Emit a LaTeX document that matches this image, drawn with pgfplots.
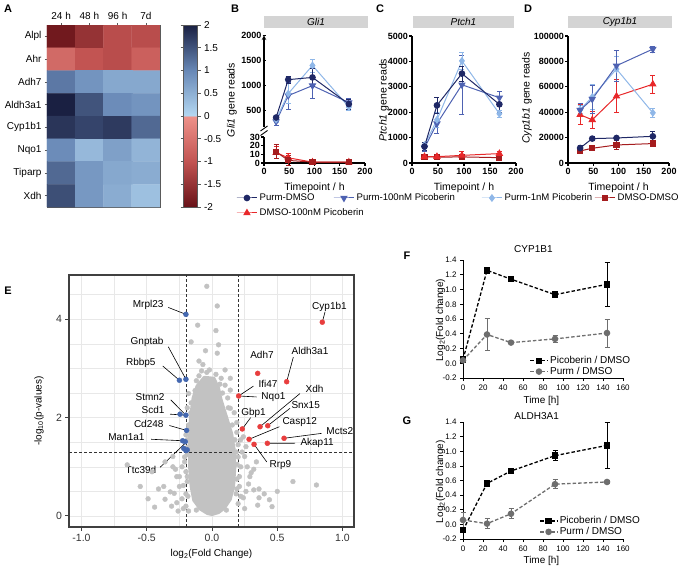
\documentclass[border=0pt]{standalone}
\usepackage{fontspec}
\setmainfont{Liberation Sans}
\usepackage{pgfplots}
\pgfplotsset{compat=1.18}

\definecolor{navy}{RGB}{31,40,102}
\definecolor{mblue}{RGB}{78,98,178}
\definecolor{lblue}{RGB}{143,183,232}
\definecolor{dred}{RGB}{165,28,30}
\definecolor{bred}{RGB}{232,40,42}
\definecolor{ptgray}{RGB}{194,194,194}
\definecolor{hitred}{RGB}{232,62,62}
\definecolor{hitblue}{RGB}{68,104,176}
\definecolor{bargray}{RGB}{212,212,212}
\definecolor{fggray}{RGB}{110,110,110}
\definecolor{frame}{RGB}{90,90,90}

\newcommand{\ten}{\fontsize{10}{12}\selectfont}

\pgfplotsset{
  every axis/.append style={scale only axis,
    /pgf/number format/assume math mode=true,
    /pgf/number format/1000 sep={}, scaled ticks=false},
  colormap={hm}{rgb255(0cm)=(104,18,24); rgb255(5cm)=(194,84,82);
    rgb255(9.99cm)=(238,146,138); rgb255(10.01cm)=(180,216,242);
    rgb255(15cm)=(104,136,182); rgb255(20cm)=(26,32,66)},
  % small time-course panels B-D
  gp/.style={axis lines=left, axis line style={-, line width=1.1pt},
    tick align=outside, major tick length=3pt, tick style={black, line width=1.1pt},
    tick label style={font=\fontsize{9}{10}\selectfont\bfseries, inner sep=1pt, /pgf/number format/fixed},
    xticklabel style={inner sep=2pt},
    xmin=0, xmax=200, xtick={0,50,100,150,200}, clip=false,
    xlabel style={font=\fontsize{10.5}{12}\selectfont, at={(axis description cs:0.5,0)}, anchor=center, yshift=-25pt}},
  s1/.style={color=navy, line width=1pt, mark=*, mark size=2.8pt},
  s2/.style={color=mblue, line width=1pt, mark=triangle*, mark size=3.4pt, mark options={rotate=180}},
  s3/.style={color=lblue, line width=1pt, mark=diamond*, mark size=3.2pt},
  s4/.style={color=dred, line width=1pt, mark=square*, mark size=2.6pt},
  s5/.style={color=bred, line width=1pt, mark=triangle*, mark size=3.4pt},
  eb/.style={error bars/.cd, y dir=both, y explicit,
    error bar style={solid, line width=0.8pt},
    error mark options={solid, rotate=90, mark size=2.5pt, line width=0.8pt}},
  % one-entry legend boxes under B-D
  lg/.style={hide axis, width=1pt, height=1pt, xmin=0, xmax=1, ymin=0, ymax=1,
    anchor=west, legend cell align=left,
    legend image code/.code={\draw[mark repeat=2,mark phase=2] plot coordinates {(0cm,0cm) (0.36cm,0cm) (0.72cm,0cm)};},
    legend style={at={(0,0.5)}, anchor=west, draw=none, fill=none, inner sep=0pt,
      font=\fontsize{9.6}{11}\selectfont}},
  % fold-change panels F-G
  fg/.style={width=160pt, height=118pt, xmin=0, xmax=160, ymin=-0.2, ymax=1.4,
    xtick={0,20,...,160}, ytick={-0.2,0,0.2,0.4,0.6,0.8,1,1.2,1.4},
    axis lines=left, axis line style={-, line width=0.7pt},
    tick align=outside, major tick length=3pt, tick style={black, line width=0.7pt},
    tick label style={font=\fontsize{8}{9}\selectfont},
    yticklabel style={/pgf/number format/fixed, /pgf/number format/fixed zerofill, /pgf/number format/precision=1},
    xlabel={Time [h]}, ylabel={Log\textsubscript{2}(Fold change)},
    label style={font=\ten},
    xlabel style={at={(axis description cs:0.49,-0.19)}, anchor=center},
    ylabel style={at={(axis description cs:-0.14,0.49)}, anchor=center},
    title style={font=\ten, anchor=center},
    clip=false, legend cell align=left,
    legend style={anchor=west, draw=none, fill=none, font=\ten, row sep=-2pt, inner sep=1pt}},
  fp/.style={black, dashed, dash pattern=on 3.5pt off 2pt, line width=1.3pt, mark=square*, mark size=2.6pt, mark options={solid}},
  fq/.style={fggray, dashed, dash pattern=on 3.5pt off 2pt, line width=1.3pt, mark=*, mark size=2.6pt, mark options={solid}},
}

\begin{document}
\begin{tikzpicture}
\path[use as bounding box] (0pt,0pt) rectangle (680pt,-569pt);

% panel letters
\foreach \l/\x/\y in {A/8/9, B/235/9, C/380/9, D/528/9, E/8/291, F/407/256, G/407/421}
  \node[font=\fontsize{11}{12}\selectfont\bfseries] at (\x pt,-\y pt) {\l};

% ---------------- A: heatmap ----------------
\begin{axis}[at={(47pt,-207pt)}, anchor=south west, width=113pt, height=182pt,
  xmin=-0.5, xmax=3.5, ymin=-0.5, ymax=7.5, y dir=reverse,
  xtick={0,1,2,3}, xticklabels={24 h,48 h,96 h,7d}, xticklabel pos=top, xtick pos=top, ytick pos=left,
  ytick={0,1,...,7}, yticklabels={Alpl,Ahr,Adh7,Aldh3a1,Cyp1b1,Nqo1,Tiparp,Xdh},
  tick align=outside, major tick length=2pt, tick style={frame, line width=0.6pt},
  axis line style={frame, line width=0.8pt},
  tick label style={font=\ten},
  colormap name=hm, point meta min=-2, point meta max=2,
  colorbar, colorbar style={at={(parent axis.north east)}, anchor=north west, xshift=15pt,
    width=14pt, ytick={-2,-1.5,-1,-0.5,0,0.5,1,1.5,2},
    yticklabel style={font=\ten}, axis line style={frame, line width=0.8pt},
    tick style={frame, line width=0.6pt}, major tick length=3pt, tick align=outside}]
\addplot[matrix plot*, mesh/cols=4, point meta=explicit] table[meta=c] {
x y c
0 0 -1.9
1 0 -1.5
2 0 -1.1
3 0 -1.1
0 1 -0.65
1 1 -1.0
2 1 -1.1
3 1 -0.8
0 2 1.15
1 2 0.85
2 2 0.6
3 2 0.6
0 3 2.0
1 3 1.5
2 3 0.95
3 3 0.85
0 4 1.8
1 4 1.65
2 4 1.75
3 4 1.3
0 5 0.95
1 5 0.4
2 5 0.7
3 5 0.45
0 6 1.3
1 6 0.8
2 6 0.6
3 6 0.55
0 7 1.55
1 7 0.8
2 7 0.55
3 7 0.3
};
\end{axis}

% ---------------- B: Gli1 (broken axis) ----------------
\fill[bargray] (264pt,-16pt) rectangle (368pt,-28pt);
\node[font=\ten\itshape] at (316pt,-22pt) {Gli1};
\node[rotate=90, font=\fontsize{10.5}{12}\selectfont] at (232pt,-100pt) {\textit{Gli1} gene reads};

\begin{axis}[gp, at={(264pt,-127pt)}, anchor=south west, width=101pt, height=91.7pt,
  ymin=160, ymax=2000, ytick={500,1000,1500,2000}, axis x line=none, axis y line=left]
\addplot[s2, eb] coordinates {(24,270) +- (0,70) (48,790) +- (0,270) (96,990) +- (0,260) (168,650) +- (0,80)};
\addplot[s3, eb] coordinates {(24,310) +- (0,60) (48,830) +- (0,200) (96,1395) +- (0,130) (168,560) +- (0,70)};
\addplot[s1, eb] coordinates {(24,350) +- (0,50) (48,1110) +- (0,70) (96,1155) +- (0,180) (168,620) +- (0,100)};
\end{axis}
\begin{axis}[gp, at={(264pt,-163pt)}, anchor=south west, width=101pt, height=26pt,
  ymin=0, ymax=30, ytick={0,10,20,30}, xlabel={Timepoint / h}]
\addplot[s5, eb] coordinates {(24,12) +- (0,7) (48,6) +- (0,5) (96,1) +- (0,1) (168,1) +- (0,1)};
\addplot[s4, eb] coordinates {(24,13) +- (0,8) (48,3) +- (0,6) (96,1) +- (0,1) (168,1) +- (0,1)};
\end{axis}
\draw[line width=0.9pt] (260.5pt,-131pt) -- (267.5pt,-126pt);
\draw[line width=0.9pt] (260.5pt,-135.5pt) -- (267.5pt,-130.5pt);

% ---------------- C: Ptch1 ----------------
\fill[bargray] (413pt,-16pt) rectangle (514pt,-28pt);
\node[font=\ten\itshape] at (463.5pt,-22pt) {Ptch1};
\node[rotate=90, font=\fontsize{10.5}{12}\selectfont] at (384pt,-100pt) {\textit{Ptch1} gene reads};
\begin{axis}[gp, at={(412pt,-163pt)}, anchor=south west, width=104pt, height=127pt,
  ymin=0, ymax=5000, ytick={0,1000,...,5000}, xlabel={Timepoint / h}]
\addplot[s4, eb] coordinates {(24,250) +- (0,50) (48,230) +- (0,50) (96,240) +- (0,100) (168,210) +- (0,60)};
\addplot[s5, eb] coordinates {(24,250) +- (0,50) (48,250) +- (0,50) (96,300) +- (0,150) (168,370) +- (0,100)};
\addplot[s2, eb] coordinates {(24,600) +- (0,150) (48,1550) +- (0,400) (96,3080) +- (0,1150) (168,2570) +- (0,250)};
\addplot[s3, eb] coordinates {(24,700) +- (0,100) (48,1700) +- (0,300) (96,4020) +- (0,350) (168,1940) +- (0,150)};
\addplot[s1, eb] coordinates {(24,650) +- (0,150) (48,2270) +- (0,300) (96,3520) +- (0,300) (168,2310) +- (0,300)};
\end{axis}

% ---------------- D: Cyp1b1 ----------------
\fill[bargray] (568pt,-16pt) rectangle (672pt,-28pt);
\node[font=\ten\itshape] at (620pt,-22pt) {Cyp1b1};
\node[rotate=90, font=\fontsize{10.5}{12}\selectfont] at (527pt,-98pt) {\textit{Cyp1b1} gene reads};
\begin{axis}[gp, at={(568pt,-163pt)}, anchor=south west, width=101pt, height=127pt,
  ymin=0, ymax=100000, ytick={0,20000,40000,60000,80000,100000}, xlabel={Timepoint / h}]
\addplot[s4, eb] coordinates {(24,9500) +- (0,2000) (48,11600) +- (0,1500) (96,14200) +- (0,3500) (168,15300) +- (0,1500)};
\addplot[s1, eb] coordinates {(24,11800) +- (0,2000) (48,19200) +- (0,1500) (96,19700) +- (0,1500) (168,21000) +- (0,4000)};
\addplot[s5, eb] coordinates {(24,38000) +- (0,8000) (48,34000) +- (0,6500) (96,52600) +- (0,13000) (168,62000) +- (0,7000)};
\addplot[s3, eb] coordinates {(24,42000) +- (0,3000) (48,52000) +- (0,10000) (96,74000) +- (0,10000) (168,39500) +- (0,3500)};
\addplot[s2, eb] coordinates {(24,41600) +- (0,5000) (48,50300) +- (0,11000) (96,76600) +- (0,12000) (168,89700) +- (0,2500)};
\end{axis}

% ---------------- legend for B-D ----------------
\begin{axis}[lg, at={(236pt,-198pt)}]
\addlegendimage{s1}\addlegendentry{Purm-DMSO}
\end{axis}
\begin{axis}[lg, at={(333pt,-198pt)}]
\addlegendimage{s2}\addlegendentry{Purm-100nM Picoberin}
\end{axis}
\begin{axis}[lg, at={(481pt,-198pt)}]
\addlegendimage{s3}\addlegendentry{Purm-1nM Picoberin}
\end{axis}
\begin{axis}[lg, at={(594pt,-198pt)}]
\addlegendimage{s4}\addlegendentry{DMSO-DMSO}
\end{axis}
\begin{axis}[lg, at={(236pt,-213pt)}]
\addlegendimage{s5}\addlegendentry{DMSO-100nM Picoberin}
\end{axis}

% ---------------- E: volcano ----------------
\begin{axis}[at={(69pt,-527pt)}, anchor=south west, width=285pt, height=252pt,
  xmin=-1.096, xmax=1.088, ymin=-0.224, ymax=4.9,
  xtick={-1,-0.5,0,0.5,1}, minor xtick={-0.75,-0.25,0.25,0.75},
  ytick={0,2,4}, minor ytick={0.5,1,1.5,2.5,3,3.5,4.5},
  grid=both, major grid style={gray!18, line width=0.6pt}, minor grid style={gray!18, line width=0.6pt},
  axis line style={black!75, line width=1.2pt},
  xtick pos=bottom, ytick pos=left,
  tick align=outside, major tick length=3.5pt, minor tick length=0pt, tick style={black!75, line width=1pt},
  xticklabel style={/pgf/number format/fixed, /pgf/number format/fixed zerofill, /pgf/number format/precision=1},
  tick label style={font=\fontsize{10.5}{12}\selectfont, black!80},
  xlabel={log\textsubscript{2}(Fold Change)}, ylabel={-log\textsubscript{10}(p-values)},
  label style={font=\ten},
  xlabel style={at={(axis description cs:0.5,-0.107)}, anchor=center},
  ylabel style={at={(axis description cs:-0.105,0.46)}, anchor=center}]
% dense core of non-significant genes
\addplot[fill=ptgray, draw=ptgray, line width=3pt, line join=round] coordinates {
(0.0,0.03) (0.05,0.07) (0.095,0.16) (0.14,0.34) (0.165,0.6) (0.175,1.0) (0.17,1.35)
(0.15,1.68) (0.11,2.02) (0.07,2.36) (0.05,2.6) (0.015,2.8) (-0.06,2.82) (-0.115,2.64)
(-0.145,2.4) (-0.165,2.0) (-0.172,1.6) (-0.172,1.0) (-0.16,0.6) (-0.14,0.32) (-0.09,0.14) (-0.035,0.05)
} -- cycle;
\addplot[only marks, mark=*, mark size=2.4pt, color=ptgray] coordinates {
(-0.04,4.67) (0.04,4.27) (-0.11,3.88) (0.03,3.77) (-0.16,3.54) (0.05,3.48) (-0.05,3.36)
(0.04,3.31) (-0.10,3.15) (-0.07,3.08) (0.10,2.97) (-0.08,2.95) (-0.04,2.92) (0.14,2.80)
(0.03,2.88) (0.07,2.80) (0.14,2.56) (-0.18,2.49) (0.10,2.66) (-0.12,2.75) (0.12,2.40)
(0.08,2.50) (-0.16,2.30)
(-0.21,1.2) (-0.23,1.0) (-0.2,0.9) (-0.25,0.8) (-0.22,0.62) (-0.2,0.45) (-0.23,0.35)
(-0.2,0.2) (-0.19,1.25) (-0.21,1.1) (-0.19,0.7) (-0.30,1.21) (-0.30,1.0) (-0.27,0.8)
(-0.37,0.6) (-0.32,0.49) (-0.36,0.34) (-0.29,0.46) (-0.46,0.9) (-0.36,1.10) (-0.65,1.04)
(-0.18,0.1) (-0.22,0.15) (-0.27,0.27) (-0.41,0.55) (-0.49,0.35) (-0.44,0.18) (-0.31,0.2)
(-0.25,0.6) (-0.28,0.95) (-0.19,1.55) (-0.2,1.65) (-0.18,1.85) (-0.19,2.2) (-0.55,0.6)
(-0.26,0.1)
(0.2,1.2) (0.22,1.0) (0.21,0.8) (0.19,0.55) (0.22,0.4) (0.2,0.25) (0.25,1.21) (0.27,1.0)
(0.29,0.8) (0.32,0.53) (0.44,0.33) (0.46,0.19) (0.36,0.37) (0.24,0.37) (0.34,1.10)
(0.30,0.88) (0.62,0.70) (0.80,0.63) (0.36,0.55) (0.14,2.19) (0.24,1.61) (0.26,1.41)
(0.2,1.45) (0.22,1.55) (0.19,1.9) (0.17,2.1) (0.28,0.65) (0.25,0.15) (0.35,0.22)
(0.32,0.95) (0.21,0.6) (0.23,1.3) (0.19,1.7) (0.26,0.5) (0.4,0.45) (0.5,0.5)
(-0.185,0.4) (-0.19,0.8) (-0.185,1.4) (-0.178,1.8) (-0.162,2.1) (-0.13,2.55) (-0.02,2.97)
(0.185,0.45) (0.19,0.75) (0.192,1.05) (0.185,1.3) (0.175,1.55) (0.155,1.85) (0.125,2.2)
(0.06,2.68) (0.11,0.12) (-0.12,0.12) (-0.1,2.85)
};
% thresholds
\addplot[black!80, dashed, dash pattern=on 3pt off 2pt, line width=0.8pt] coordinates {(-0.2,-0.224) (-0.2,4.9)};
\addplot[black!80, dashed, dash pattern=on 3pt off 2pt, line width=0.8pt] coordinates {(0.2,-0.224) (0.2,4.9)};
\addplot[black!80, dashed, dash pattern=on 3pt off 2pt, line width=0.8pt] coordinates {(-1.096,1.301) (1.088,1.301)};
% leader lines
\begin{scope}[line width=0.6pt, black]
\draw (axis cs:-0.335,4.24) -- (axis cs:-0.2,4.10);
\draw (axis cs:-0.335,3.44) -- (axis cs:-0.2,2.78);
\draw (axis cs:-0.378,3.05) -- (axis cs:-0.25,2.76);
\draw (axis cs:-0.316,2.36) -- (axis cs:-0.2,2.05);
\draw (axis cs:-0.322,2.07) -- (axis cs:-0.2,2.05);
\draw (axis cs:-0.327,1.84) -- (axis cs:-0.195,1.74);
\draw (axis cs:-0.467,1.56) -- (axis cs:-0.225,1.53);
\draw (axis cs:-0.398,0.99) -- (axis cs:-0.205,1.48);
\draw (axis cs:0.866,4.15) -- (axis cs:0.845,3.94);
\draw (axis cs:0.623,3.23) -- (axis cs:0.572,2.73);
\draw (axis cs:0.317,2.64) -- (axis cs:0.204,2.44);
\draw (axis cs:0.342,2.42) -- (axis cs:0.204,2.44);
\draw (axis cs:0.674,2.49) -- (axis cs:0.368,1.815);
\draw (axis cs:0.598,2.19) -- (axis cs:0.427,1.835);
\draw (axis cs:0.296,2.0) -- (axis cs:0.232,1.77);
\draw (axis cs:0.516,1.815) -- (axis cs:0.284,1.56);
\draw (axis cs:0.84,1.68) -- (axis cs:0.552,1.58);
\draw (axis cs:0.636,1.48) -- (axis cs:0.424,1.478);
\draw (axis cs:0.419,1.10) -- (axis cs:0.322,1.457);
\end{scope}
\addplot[only marks, mark=*, mark size=2.5pt, color=hitblue] coordinates {
(-0.2,4.10) (-0.2,2.78) (-0.25,2.76) (-0.2,2.05) (-0.245,2.07) (-0.195,1.74)
(-0.225,1.53) (-0.205,1.51) (-0.217,1.375) (-0.2,1.33) (-0.19,1.345)};
\addplot[only marks, mark=*, mark size=2.5pt, color=hitred] coordinates {
(0.845,3.94) (0.35,2.90) (0.572,2.73) (0.204,2.44) (0.368,1.815) (0.427,1.835)
(0.232,1.77) (0.284,1.56) (0.552,1.58) (0.424,1.478) (0.322,1.457)};
% gene labels
\begin{scope}[font=\ten]
\node[anchor=east] at (axis cs:-0.345,4.29) {Mrpl23};
\node[anchor=east] at (axis cs:-0.345,3.54) {Gnptab};
\node[anchor=east] at (axis cs:-0.406,3.11) {Rbbp5};
\node[anchor=east] at (axis cs:-0.337,2.42) {Stmn2};
\node[anchor=east] at (axis cs:-0.337,2.15) {Scd1};
\node[anchor=east] at (axis cs:-0.345,1.87) {Cd248};
\node[anchor=east] at (axis cs:-0.49,1.61) {Man1a1};
\node[anchor=east] at (axis cs:-0.4,0.935) {Ttc39d};
\node at (axis cs:0.90,4.25) {Cyp1b1};
\node at (axis cs:0.383,3.27) {Adh7};
\node at (axis cs:0.751,3.35) {Aldh3a1};
\node[anchor=west] at (axis cs:0.33,2.68) {Ifi47};
\node[anchor=west] at (axis cs:0.352,2.42) {Nqo1};
\node[anchor=west] at (axis cs:0.69,2.58) {Xdh};
\node[anchor=west] at (axis cs:0.582,2.26) {Snx15};
\node at (axis cs:0.318,2.09) {Gbp1};
\node[anchor=west] at (axis cs:0.513,1.91) {Casp12};
\node[anchor=west] at (axis cs:0.85,1.73) {Mcts2};
\node[anchor=west] at (axis cs:0.651,1.48) {Akap11};
\node[anchor=west] at (axis cs:0.414,1.04) {Rrp9};
\end{scope}
\end{axis}

% ---------------- F: CYP1B1 ----------------
\begin{axis}[fg, at={(463pt,-378pt)}, anchor=south west, title={CYP1B1},
  title style={at={(axis description cs:0.44,1.045)}}, legend style={at={(0.41,0.1)}}]
\addplot[fp, eb] coordinates {(0,0.05) +- (0,0.02) (24,1.26) +- (0,0.02) (48,1.14) +- (0,0.02) (92,0.93) +- (0,0.03) (144,1.07) +- (0,0.30)};
\addplot[fq, eb] coordinates {(0,0.04) +- (0,0.03) (24,0.39) +- (0,0.22) (48,0.28) +- (0,0.01) (92,0.33) +- (0,0.05) (144,0.41) +- (0,0.19)};
\legend{Picoberin / DMSO, Purm / DMSO}
\end{axis}

% ---------------- G: ALDH3A1 ----------------
\begin{axis}[fg, at={(463pt,-539pt)}, anchor=south west, height=117pt, title={ALDH3A1},
  title style={at={(axis description cs:0.46,1.0)}}, legend style={at={(0.47,0.107)}}]
\addplot[fp, eb] coordinates {(0,-0.08) +- (0,0.02) (24,0.56) +- (0,0.02) (48,0.73) +- (0,0.02) (92,0.94) +- (0,0.07) (144,1.08) +- (0,0.32)};
\addplot[fq, eb] coordinates {(0,0.06) +- (0,0.1) (24,0.01) +- (0,0.07) (48,0.145) +- (0,0.07) (92,0.55) +- (0,0.06) (144,0.58) +- (0,0.02)};
\legend{Picoberin / DMSO, Purm / DMSO}
\end{axis}
\end{tikzpicture}
\end{document}
